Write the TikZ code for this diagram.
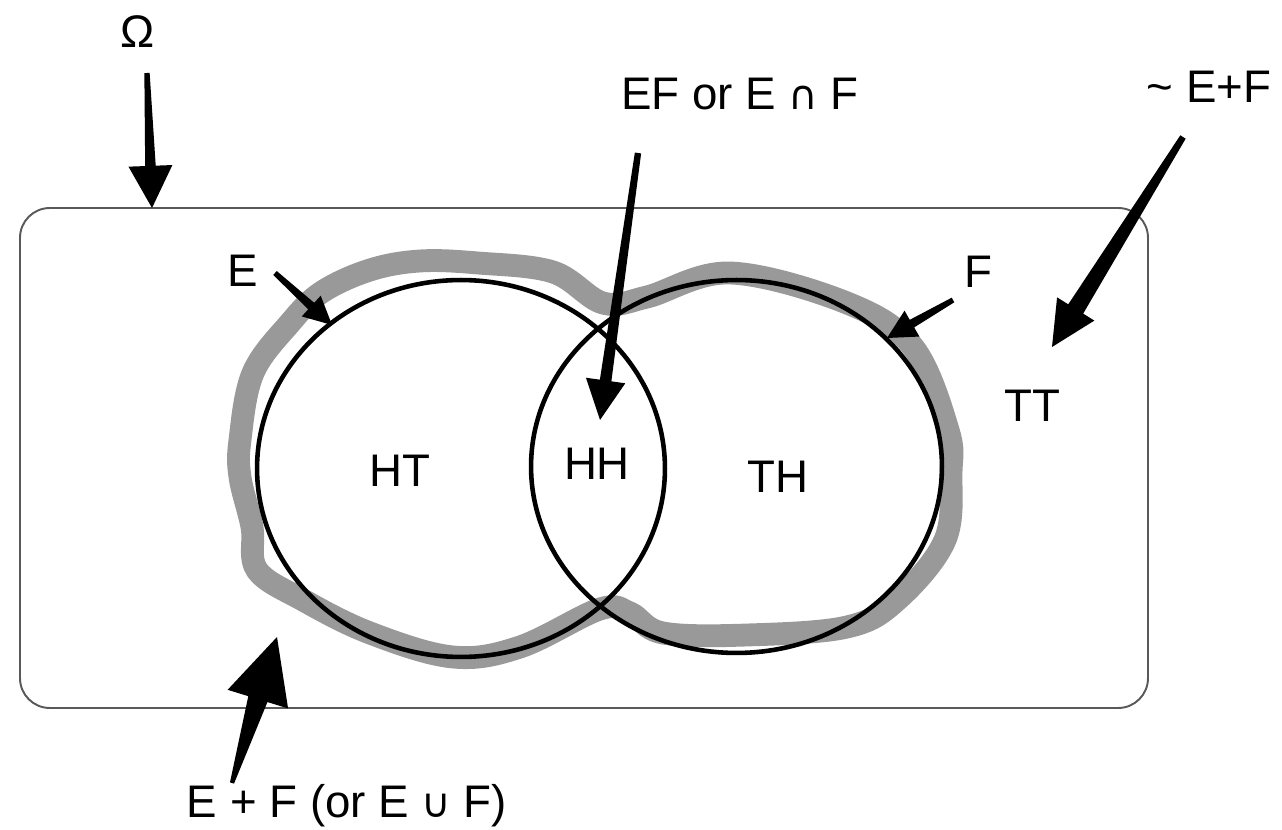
\documentclass[tikz,border=0pt]{standalone}
\usepackage{fontspec}
\setmainfont{Liberation Sans}
\newfontfamily\symfont{DejaVu Sans}
\usetikzlibrary{calc}
% tapered arrow: #1 tail, #2 tip, #3 tail half-width, #4 shaft half-width at head,
% #5 head length, #6 head half-width
\newcommand\taper[6]{%
  \coordinate (tb) at ($(#2)!#5!(#1)$);
  \fill[black] ($(#1)!#3!90:(#2)$) -- ($(tb)!#4!90:(#2)$) -- ($(tb)!#6!90:(#2)$)
    -- (#2) -- ($(tb)!#6!-90:(#2)$) -- ($(tb)!#4!-90:(#2)$) -- ($(#1)!#3!-90:(#2)$) -- cycle;}
\begin{document}
\begin{tikzpicture}[x=0.02cm,y=-0.02cm,
  lbl/.style={inner sep=0pt, anchor=base, font=\fontsize{26}{30}\selectfont},
  sym/.style={font=\symfont\fontsize{23}{26}\selectfont},
  venn/.style={draw=black, line width=2.6pt},
  union/.style={draw=black!40, line width=13pt, line join=round},
  frame/.style={draw=black!65, line width=1.1pt, rounded corners=17pt}]
\useasboundingbox (0,0) rectangle (1282,830);
\draw[frame] (20,208) rectangle (1148,708);
\draw[union] plot[smooth cycle, tension=0.6] coordinates {
  (240,440) (253,373) (290,323) (322,292) (370,270) (420,261) (478,263)
  (553,272) (603,303) (647,297) (730,273) (847,303) (913,347) (948,430)
  (951,473) (945,540) (897,600) (847,627) (747,635) (663,633) (630,613)
  (600,609) (520,647) (453,657) (370,633) (303,600) (257,570) (252,527)
  (240,477)};
\draw[venn] (461,468.5) ellipse [x radius=4.08cm, y radius=3.77cm];
\draw[venn] (736.5,466.5) ellipse [x radius=4.11cm, y radius=3.73cm];
% labels
\node[lbl] (omega) at (138,48) {Ω};
\node[lbl] (ef) at (740,110) {EF or E {\symfont\fontsize{23}{26}\selectfont ∩} F};
\node[lbl] (notef) at (1209,103) {\textasciitilde\ E+F};
\node[lbl] (union) at (347,818) {E + F (or E {\symfont\fontsize{23}{26}\selectfont ∪} F)};
\node[lbl] (e) at (243,287) {E};
\node[lbl] (f) at (978,288) {F};
\node[lbl] (ht) at (400,487) {HT};
\node[lbl] (hh) at (597,480) {HH};
\node[lbl] (th) at (778,493) {TH};
\node[lbl] (tt) at (1032,422) {TT};
% arrow ends
\coordinate (omegaT) at (147,73);   \coordinate (omegaH) at (152,208);
\coordinate (efT) at (638,153);     \coordinate (efH) at (600,420);
\coordinate (notT) at (1183,137);   \coordinate (notH) at (1052,347);
\coordinate (unT) at (232,783);     \coordinate (unH) at (277,637);
\coordinate (eT) at (275,273);      \coordinate (eH) at (332,325);
\coordinate (fT) at (953,300);      \coordinate (fH) at (887,338);
\taper{omegaT}{omegaH}{1.5pt}{3pt}{24pt}{12.5pt}
\taper{efT}{efH}{1.8pt}{3.3pt}{22.7pt}{11.3pt}
\taper{notT}{notH}{1.8pt}{5pt}{25.5pt}{12.5pt}
\taper{unT}{unH}{1.2pt}{5.7pt}{37pt}{18pt}
\taper{eT}{eH}{1.5pt}{2.5pt}{16pt}{8pt}
\taper{fT}{fH}{1.5pt}{2.5pt}{16.4pt}{8.5pt}
\end{tikzpicture}
\end{document}
